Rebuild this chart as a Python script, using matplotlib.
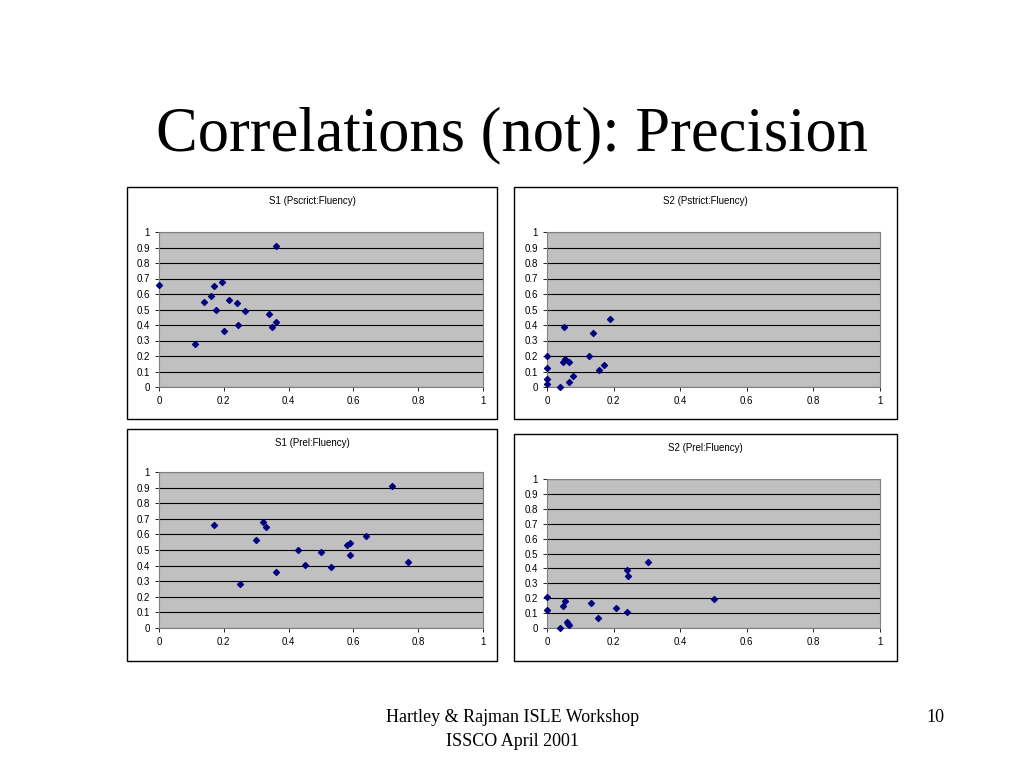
import matplotlib
matplotlib.use("Agg")
import matplotlib.pyplot as plt
from matplotlib.patches import Rectangle

W, H = 1024, 768

# data
s1_strict_x = [0, 0.11, 0.14, 0.16, 0.17, 0.175, 0.195, 0.2, 0.215, 0.24, 0.245, 0.265, 0.34, 0.35, 0.36, 0.36]
s1_strict_y = [0.66, 0.28, 0.55, 0.59, 0.65, 0.50, 0.68, 0.36, 0.56, 0.54, 0.40, 0.49, 0.47, 0.39, 0.42, 0.91]
s2_strict_x = [0, 0, 0, 0, 0.04, 0.05, 0.047, 0.055, 0.065, 0.067, 0.078, 0.127, 0.137, 0.157, 0.172, 0.19]
s2_strict_y = [0.20, 0.12, 0.05, 0.02, 0, 0.39, 0.16, 0.18, 0.03, 0.16, 0.07, 0.20, 0.35, 0.11, 0.14, 0.44]
s1_rel_x = [0.17, 0.25, 0.30, 0.32, 0.33, 0.36, 0.43, 0.45, 0.50, 0.53, 0.58, 0.59, 0.59, 0.64, 0.72, 0.77]
s1_rel_y = [0.66, 0.285, 0.565, 0.68, 0.65, 0.36, 0.50, 0.405, 0.49, 0.39, 0.535, 0.545, 0.465, 0.59, 0.91, 0.42]
s2_rel_x = [0, 0, 0.04, 0.048, 0.055, 0.06, 0.063, 0.066, 0.133, 0.153, 0.208, 0.24, 0.243, 0.24, 0.303, 0.5]
s2_rel_y = [0.21, 0.12, 0, 0.15, 0.18, 0.04, 0.03, 0.02, 0.165, 0.07, 0.135, 0.39, 0.35, 0.11, 0.44, 0.195]

ticks = [0, 0.2, 0.4, 0.6, 0.8, 1]
yticks = [i / 10 for i in range(11)]
ylabels = ["0"] + [f"{t:g}" for t in yticks[1:]]

plt.rcParams['font.family'] = ['Liberation Sans', 'DejaVu Sans']
fig = plt.figure(figsize=(W / 100, H / 100), dpi=100)

def px(l, t, r, b):
    return [l / W, 1 - b / H, (r - l) / W, (b - t) / H]

fig.text(0.5, 1 - 135 / H, "Correlations (not): Precision", ha="center", va="center",
         fontsize=45, family="Liberation Serif")
fig.text(513 / W, 1 - 718 / H, "Hartley & Rajman ISLE Workshop", ha="center", va="center",
         fontsize=13, family="Liberation Serif")
fig.text(513 / W, 1 - 742 / H, "ISSCO April 2001", ha="center", va="center",
         fontsize=13, family="Liberation Serif")
fig.text(935 / W, 1 - 718 / H, "10", ha="center", va="center", fontsize=13, family="Liberation Serif")

panels = [
    ("S1 (Pscrict:Fluency)", s1_strict_x, s1_strict_y, (127, 187, 497, 419), (159, 232, 483, 387)),
    ("S2 (Pstrict:Fluency)", s2_strict_x, s2_strict_y, (514, 187, 897, 419), (547, 232, 880, 387)),
    ("S1 (Prel:Fluency)", s1_rel_x, s1_rel_y, (127, 429, 497, 661), (159, 472, 483, 628)),
    ("S2 (Prel:Fluency)", s2_rel_x, s2_rel_y, (514, 434, 897, 661), (547, 479, 880, 628)),
]

for title, xs, ys, frame, area in panels:
    l, t, r, b = frame
    fig.patches.append(Rectangle((l / W, 1 - b / H), (r - l) / W, (b - t) / H,
                                 transform=fig.transFigure, fill=False, ec="black", lw=1))
    fig.text((l + r) / 2 / W, 1 - (t + 14) / H, title, ha="center", va="center", fontsize=7)
    ax = fig.add_axes(px(*area))
    ax.set_facecolor("#c0c0c0")
    ax.scatter(xs, ys, marker="D", s=9, color="#000080", zorder=3, clip_on=False)
    ax.set_xlim(0, 1)
    ax.set_ylim(0, 1)
    ax.set_xticks(ticks)
    ax.set_xticklabels([f"{v:g}" for v in ticks])
    ax.set_yticks(yticks)
    ax.set_yticklabels(ylabels)
    ax.grid(axis="y", color="black", lw=0.8)
    ax.tick_params(labelsize=7, length=3, width=0.6)
    for s in ["top", "right", "left", "bottom"]:
        ax.spines[s].set_color("#808080")

fig.savefig("out.png", dpi=100)
